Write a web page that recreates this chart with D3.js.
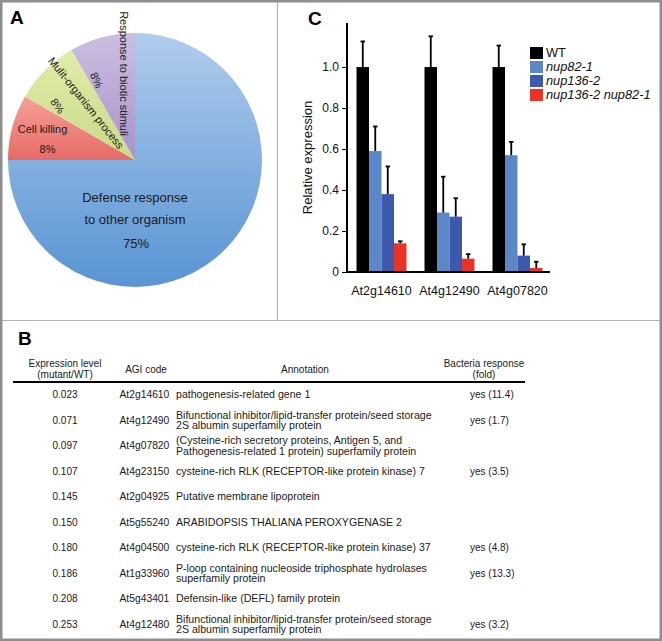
<!DOCTYPE html>
<html><head><meta charset="utf-8">
<script src="https://cdn.jsdelivr.net/npm/d3@7"></script>
<style>
html,body{margin:0;padding:0;background:#fff;}
svg{display:block;font-family:"Liberation Sans",Arial,Helvetica,sans-serif;}
</style></head><body>
<svg id="fig" width="662" height="641"></svg>
<script>
// ---------- Panel A data ----------
const pieCategories = ["Defense response to other organism", "Cell killing", "Mulit-organism process", "Response to biotic stimuli"];
const pieCounts = [9, 1, 1, 1];
const piePercents = ["75%", "8%", "8%", "8%"];

// ---------- Panel C data ----------
const genes = ["At2g14610", "At4g12490", "At4g07820"];
const genotypes = ["WT", "nup82-1", "nup136-2", "nup136-2 nup82-1"];
const wtMean = [1.00, 1.00, 1.00];
const nup82Mean = [0.59, 0.29, 0.57];
const nup136Mean = [0.38, 0.27, 0.08];
const doubleMean = [0.14, 0.065, 0.02];
const wtErr = [0.125, 0.15, 0.105];
const nup82Err = [0.12, 0.175, 0.065];
const nup136Err = [0.135, 0.09, 0.055];
const doubleErr = [0.01, 0.022, 0.03];
const yTicks = [0, 0.2, 0.4, 0.6, 0.8, 1.0];
const yTickLabels = ["0", "0.2", "0.4", "0.6", "0.8", "1.0"];

// ---------- Panel B data ----------
const tableHeaders = [["Expression level", "(mutant/WT)"], ["AGI code"], ["Annotation"], ["Bacteria response", "(fold)"]];
const exprLevels = ["0.023", "0.071", "0.097", "0.107", "0.145", "0.150", "0.180", "0.186", "0.208", "0.253"];
const agiCodes = ["At2g14610", "At4g12490", "At4g07820", "At4g23150", "At2g04925", "At5g55240", "At4g04500", "At1g33960", "At5g43401", "At4g12480"];
const annotations = [
  ["pathogenesis-related gene 1"],
  ["Bifunctional inhibitor/lipid-transfer protein/seed storage", "2S albumin superfamily protein"],
  ["(Cysteine-rich secretory proteins, Antigen 5, and", "Pathogenesis-related 1 protein) superfamily protein"],
  ["cysteine-rich RLK (RECEPTOR-like protein kinase) 7"],
  ["Putative membrane lipoprotein"],
  ["ARABIDOPSIS THALIANA PEROXYGENASE 2"],
  ["cysteine-rich RLK (RECEPTOR-like protein kinase) 37"],
  ["P-loop containing nucleoside triphosphate hydrolases", "superfamily protein"],
  ["Defensin-like (DEFL) family protein"],
  ["Bifunctional inhibitor/lipid-transfer protein/seed storage", "2S albumin superfamily protein"]
];
const bacteriaResponse = ["yes (11.4)", "yes (1.7)", "", "yes (3.5)", "", "", "yes (4.8)", "yes (13.3)", "", "yes (3.2)"];

// ---------- styles ----------
const pieTop = ["#b0ccec", "#f4a19a", "#e1eca9", "#ccbfe1"];
const pieBottom = ["#5994d3", "#e86a64", "#c8db88", "#a892ca"];
const barColors = ["#000000", "#5b87c9", "#3c59ad", "#ea3326"];

const svg = d3.select("#fig");
const defs = svg.append("defs");

// frame
svg.append("rect").attr("x", 0).attr("y", 0).attr("width", 662).attr("height", 641).attr("fill", "#fff");
svg.append("line").attr("x1", 277.5).attr("x2", 277.5).attr("y1", 0).attr("y2", 320.5).attr("stroke", "#b4b4b4").attr("stroke-width", 1.2);
svg.append("line").attr("x1", 0).attr("x2", 662).attr("y1", 320.5).attr("y2", 320.5).attr("stroke", "#b4b4b4").attr("stroke-width", 1.2);

// panel letters
const letter = (t, x, y) => svg.append("text").attr("x", x).attr("y", y).attr("font-size", 19).attr("font-weight", "bold").attr("fill", "#000").text(t);
letter("A", 10, 24);
letter("C", 308, 25);
letter("B", 18, 345);

// ---------- Panel A: pie ----------
const cx = 135, cy = 160, R = 127;
pieCounts.forEach((d, i) => {
  const g = defs.append("linearGradient").attr("id", "pg" + i).attr("x1", 0).attr("y1", 0).attr("x2", 0).attr("y2", 1);
  g.append("stop").attr("offset", "0%").attr("stop-color", pieTop[i]);
  g.append("stop").attr("offset", "100%").attr("stop-color", pieBottom[i]);
});
const pieGen = d3.pie().sort(null).value(d => d);
const arcGen = d3.arc().innerRadius(0).outerRadius(R);
const pg = svg.append("g").attr("transform", `translate(${cx},${cy})`);
pg.selectAll("path").data(pieGen(pieCounts)).join("path")
  .attr("d", arcGen)
  .attr("fill", (d, i) => `url(#pg${i})`);

const pl = svg.append("g").attr("fill", "#1a1a1a").attr("text-anchor", "middle");
const defWords = ["Defense response", "to other organism"];
pl.append("text").attr("x", cx).attr("y", 202).attr("font-size", 13).text(defWords[0]);
pl.append("text").attr("x", cx).attr("y", 224).attr("font-size", 13).text(defWords[1]);
pl.append("text").attr("x", cx + 1).attr("y", 248).attr("font-size", 13).text(piePercents[0]);
pl.append("text").attr("x", 42.5).attr("y", 133).attr("font-size", 11).text(pieCategories[1]);
pl.append("text").attr("x", 47.5).attr("y", 152.5).attr("font-size", 11).text(piePercents[1]);
pl.append("text").attr("transform", "translate(86,103) rotate(51.5)").attr("dy", "0.35em").attr("font-size", 11).text(pieCategories[2]);
pl.append("text").attr("transform", "translate(57.5,106) rotate(55)").attr("dy", "0.35em").attr("font-size", 11).text(piePercents[2]);
pl.append("text").attr("transform", "translate(124,73.5) rotate(90)").attr("dy", "0.35em").attr("font-size", 11).text(pieCategories[3]);
pl.append("text").attr("transform", "translate(96.5,80) rotate(65)").attr("dy", "0.35em").attr("font-size", 11).text(piePercents[3]);

// ---------- Panel C: bar chart ----------
const means = [wtMean, nup82Mean, nup136Mean, doubleMean];
const errs = [wtErr, nup82Err, nup136Err, doubleErr];
const x0 = d3.scaleBand().domain(genes).range([347, 552]).paddingInner(0.265).paddingOuter(0.14);
const x1 = d3.scaleBand().domain(genotypes).range([0, x0.bandwidth()]);
const y = d3.scaleLinear().domain([0, 1.215]).range([272, 23]);

const cg = svg.append("g");
const barData = [];
genes.forEach((gname, gi) => genotypes.forEach((t, ti) => barData.push({ gene: gname, type: t, ti, v: means[ti][gi], e: errs[ti][gi] })));

cg.selectAll("rect.bar").data(barData).join("rect").attr("class", "bar")
  .attr("x", d => x0(d.gene) + x1(d.type))
  .attr("width", x1.bandwidth())
  .attr("y", d => y(d.v))
  .attr("height", d => y(0) - y(d.v))
  .attr("fill", d => barColors[d.ti]);

const eg = cg.append("g").attr("stroke", "#000").attr("stroke-width", 1.8);
const cxBar = d => x0(d.gene) + x1(d.type) + x1.bandwidth() / 2;
eg.selectAll("line.ev").data(barData).join("line").attr("class", "ev")
  .attr("x1", cxBar).attr("x2", cxBar)
  .attr("y1", d => y(d.v))
  .attr("y2", d => y(d.v + d.e));
eg.selectAll("line.ec").data(barData).join("line").attr("class", "ec")
  .attr("x1", d => cxBar(d) - 2.2)
  .attr("x2", d => cxBar(d) + 2.2)
  .attr("y1", d => y(d.v + d.e))
  .attr("y2", d => y(d.v + d.e));

const yAxis = d3.axisLeft(y).tickValues(yTicks).tickFormat((d, i) => yTickLabels[i]).tickSize(5).tickPadding(3);
const ya = cg.append("g").attr("transform", "translate(347,0)").call(yAxis);
ya.select(".domain").attr("stroke", "#000").attr("stroke-width", 2).attr("d", `M0,${y(0) + 1}V${y.range()[1]}`);
ya.selectAll(".tick line").attr("stroke", "#000").attr("stroke-width", 1);
ya.selectAll(".tick text").attr("font-size", 12).attr("fill", "#111").attr("font-family", null);

const xAxis = d3.axisBottom(x0).tickSize(0).tickPadding(14);
const xa = cg.append("g").attr("transform", `translate(0,${y(0)})`).call(xAxis);
xa.select(".domain").attr("stroke", "#000").attr("stroke-width", 2).attr("d", "M346,0H550");
xa.selectAll(".tick text").attr("font-size", 12.5).attr("fill", "#111").attr("font-family", null);

cg.append("text").attr("transform", "translate(312,157.5) rotate(-90)").attr("text-anchor", "middle")
  .attr("font-size", 13).attr("fill", "#111").text("Relative expression");

// legend
const lg = svg.append("g").attr("transform", "translate(530,47)");
genotypes.forEach((t, i) => {
  lg.append("rect").attr("x", 0).attr("y", i * 14).attr("width", 13).attr("height", 12).attr("fill", barColors[i]);
  lg.append("text").attr("x", 16).attr("y", i * 14 + 10).attr("font-size", 12.8)
    .attr("font-style", i === 0 ? "normal" : "italic").attr("fill", "#111").text(t);
});

// ---------- Panel B: table ----------
const tb = svg.append("g").attr("fill", "#1a1a1a");
const colHeaderX = [65, 146, 305, 484];
tableHeaders.forEach((h, i) => {
  if (h.length === 2) {
    tb.append("text").attr("x", colHeaderX[i]).attr("y", 366.5).attr("text-anchor", "middle").attr("font-size", 10).text(h[0]);
    tb.append("text").attr("x", colHeaderX[i]).attr("y", 377.5).attr("text-anchor", "middle").attr("font-size", 10).text(h[1]);
  } else {
    tb.append("text").attr("x", colHeaderX[i]).attr("y", 372.5).attr("text-anchor", "middle").attr("font-size", 10).text(h[0]);
  }
});
svg.append("line").attr("x1", 13).attr("x2", 525).attr("y1", 382).attr("y2", 382).attr("stroke", "#000").attr("stroke-width", 2);

const rowY = d3.scaleBand().domain(d3.range(exprLevels.length)).range([382, 637]);
exprLevels.forEach((v, i) => {
  const yc = rowY(i) + rowY.bandwidth() / 2;
  tb.append("text").attr("x", 65).attr("y", yc).attr("dy", "0.35em").attr("text-anchor", "middle").attr("font-size", 10).text(v);
  tb.append("text").attr("x", 119.5).attr("y", yc).attr("dy", "0.35em").attr("font-size", 10.3).text(agiCodes[i]);
  const lines = annotations[i];
  lines.forEach((ln, k) => {
    const off = (k - (lines.length - 1) / 2) * 10.5;
    tb.append("text").attr("x", 176).attr("y", yc + off).attr("dy", "0.35em").attr("font-size", 10.6).text(ln);
  });
  if (bacteriaResponse[i]) {
    tb.append("text").attr("x", 470).attr("y", yc).attr("dy", "0.35em").attr("font-size", 10).text(bacteriaResponse[i]);
  }
});

// outer border
svg.append("rect").attr("x", 1.25).attr("y", 1.25).attr("width", 659.5).attr("height", 638.5)
  .attr("fill", "none").attr("stroke", "#8e8e8e").attr("stroke-width", 2.5);
</script>
</body></html>
